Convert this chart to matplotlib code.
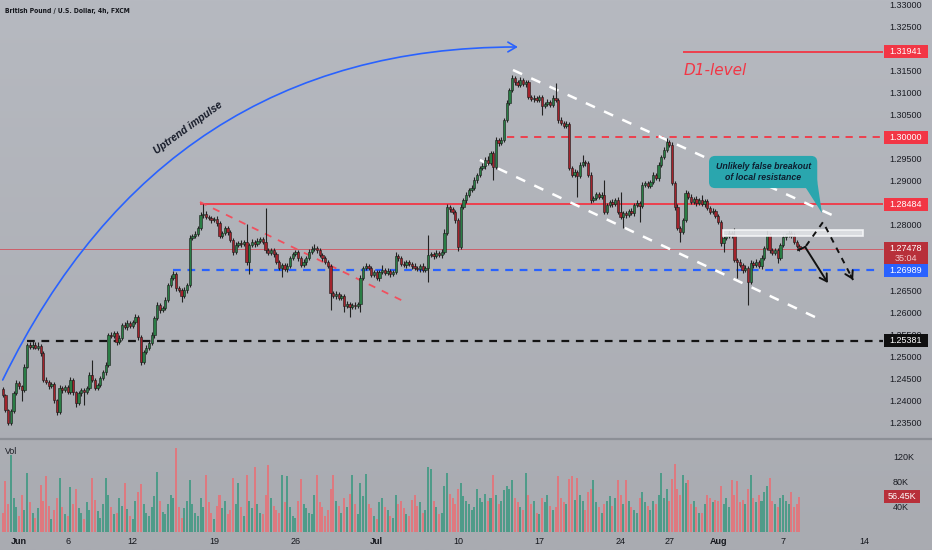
import numpy as np
import matplotlib
matplotlib.use("Agg")
import matplotlib.pyplot as plt
from matplotlib.patches import Rectangle, Polygon, FancyArrowPatch
from matplotlib.path import Path
from matplotlib.lines import Line2D
import matplotlib.transforms as mtransforms
from matplotlib import font_manager
from matplotlib.font_manager import FontProperties

# ---------------- data ----------------
first_open = 1.2430
# 4h closes, one row per trading day (May 31 .. Aug 8)
closes = [
    1.2415, 1.2382, 1.2352, 1.2380, 1.2420, 1.2443,  # May 31
    1.2435, 1.2428, 1.2480, 1.2530, 1.2525, 1.2530,  # Jun 1
    1.2523, 1.2527, 1.2511, 1.2450, 1.2445, 1.2436,  # Jun 2
    1.2441, 1.2404, 1.2377, 1.2432, 1.2427, 1.2434,  # Jun 5
    1.2422, 1.2450, 1.2422, 1.2397, 1.2420, 1.2427,  # Jun 6
    1.2422, 1.2432, 1.2461, 1.2450, 1.2432, 1.2438,  # Jun 7
    1.2454, 1.2468, 1.2484, 1.2552, 1.2549, 1.2556,  # Jun 8
    1.2536, 1.2545, 1.2574, 1.2570, 1.2579, 1.2572,  # Jun 9
    1.2581, 1.2592, 1.2547, 1.2490, 1.2513, 1.2522,  # Jun 12
    1.2534, 1.2552, 1.2590, 1.2620, 1.2608, 1.2613,  # Jun 13
    1.2631, 1.2665, 1.2681, 1.2690, 1.2658, 1.2654,  # Jun 14
    1.2640, 1.2654, 1.2665, 1.2772, 1.2776, 1.2781,  # Jun 15
    1.2794, 1.2824, 1.2826, 1.2819, 1.2817, 1.2812,  # Jun 16
    1.2815, 1.2806, 1.2776, 1.2783, 1.2794, 1.2785,  # Jun 19
    1.2767, 1.2740, 1.2756, 1.2760, 1.2758, 1.2763,  # Jun 20
    1.2717, 1.2756, 1.2763, 1.2758, 1.2765, 1.2769,  # Jun 21
    1.2763, 1.2744, 1.2738, 1.2744, 1.2735, 1.2717,  # Jun 22
    1.2704, 1.2710, 1.2701, 1.2708, 1.2726, 1.2735,  # Jun 23
    1.2740, 1.2726, 1.2710, 1.2717, 1.2726, 1.2740,  # Jun 26
    1.2747, 1.2749, 1.2744, 1.2733, 1.2726, 1.2717,  # Jun 27
    1.2708, 1.2647, 1.2640, 1.2645, 1.2636, 1.2640,  # Jun 28
    1.2617, 1.2622, 1.2615, 1.2620, 1.2617, 1.2622,  # Jun 29
    1.2681, 1.2704, 1.2708, 1.2704, 1.2688, 1.2694,  # Jun 30
    1.2681, 1.2694, 1.2699, 1.2692, 1.2697, 1.2690,  # Jul 3
    1.2694, 1.2731, 1.2726, 1.2713, 1.2710, 1.2717,  # Jul 4
    1.2713, 1.2708, 1.2704, 1.2701, 1.2708, 1.2699,  # Jul 5
    1.2704, 1.2733, 1.2735, 1.2731, 1.2738, 1.2733,  # Jul 6
    1.2740, 1.2783, 1.2842, 1.2837, 1.2830, 1.2812,  # Jul 7
    1.2751, 1.2842, 1.2858, 1.2869, 1.2880, 1.2885,  # Jul 10
    1.2903, 1.2915, 1.2930, 1.2935, 1.2949, 1.2942,  # Jul 11
    1.2964, 1.2933, 1.2994, 1.2987, 1.2994, 1.3039,  # Jul 12
    1.3078, 1.3107, 1.3134, 1.3125, 1.3119, 1.3130,  # Jul 13
    1.3121, 1.3125, 1.3091, 1.3087, 1.3089, 1.3085,  # Jul 14
    1.3091, 1.3071, 1.3076, 1.3080, 1.3073, 1.3089,  # Jul 17
    1.3085, 1.3039, 1.3032, 1.3026, 1.3030, 1.2930,  # Jul 18
    1.2915, 1.2921, 1.2912, 1.2937, 1.2944, 1.2942,  # Jul 19
    1.2915, 1.2858, 1.2862, 1.2871, 1.2865, 1.2869,  # Jul 20
    1.2831, 1.2846, 1.2853, 1.2849, 1.2858, 1.2831,  # Jul 21
    1.2819, 1.2828, 1.2824, 1.2833, 1.2828, 1.2846,  # Jul 24
    1.2851, 1.2844, 1.2892, 1.2896, 1.2890, 1.2899,  # Jul 25
    1.2915, 1.2908, 1.2937, 1.2955, 1.2971, 1.2989,  # Jul 26
    1.2983, 1.2896, 1.2842, 1.2794, 1.2785, 1.2812,  # Jul 27
    1.2874, 1.2865, 1.2853, 1.2860, 1.2851, 1.2858,  # Jul 28
    1.2849, 1.2855, 1.2840, 1.2831, 1.2833, 1.2821,  # Jul 31
    1.2808, 1.2760, 1.2771, 1.2776, 1.2783, 1.2778,  # Aug 1
    1.2722, 1.2717, 1.2710, 1.2699, 1.2704, 1.2672,  # Aug 2
    1.2715, 1.2710, 1.2717, 1.2708, 1.2726, 1.2749,  # Aug 3
    1.2778, 1.2744, 1.2738, 1.2744, 1.2726, 1.2756,  # Aug 4
    1.2774, 1.2778, 1.2783, 1.2776, 1.2763, 1.2753,  # Aug 7
    1.27478,                                         # Aug 8
]
# upper / lower wick lengths in pips beyond the body
upper_wick_pips = [
    4, 3, 3, 5, 4, 6,   5, 4, 5, 4, 6, 8,   5, 8, 4, 5, 6, 4,   5, 4, 3, 6, 5, 4,
    4, 6, 5, 3, 4, 5,   4, 5, 6, 34, 4, 5,  4, 5, 6, 5, 6, 4,   5, 6, 5, 7, 6, 5,
    5, 8, 4, 5, 4, 6,   5, 6, 5, 6, 4, 5,   6, 5, 6, 7, 4, 5,   4, 6, 5, 6, 5, 6,
    5, 6, 23, 6, 5, 4,  5, 6, 4, 5, 6, 5,   5, 4, 6, 5, 6, 5,   40, 5, 6, 5, 6, 5,
    4, 77, 5, 6, 4, 5,  4, 6, 5, 6, 5, 6,   5, 4, 5, 6, 5, 6,   6, 10, 5, 4, 5, 4,
    5, 4, 5, 6, 4, 5,   5, 6, 4, 5, 6, 5,   6, 5, 6, 5, 4, 5,   5, 6, 12, 5, 6, 5,
    5, 8, 5, 4, 6, 5,   5, 4, 6, 5, 4, 6,   5, 46, 6, 5, 6, 5,  6, 8, 6, 5, 6, 5,
    5, 6, 5, 6, 5, 6,   6, 5, 6, 7, 6, 8,   6, 5, 6, 5, 6, 5,   6, 5, 7, 6, 5, 6,
    5, 6, 5, 4, 6, 5,   5, 6, 5, 6, 5, 6,   34, 5, 6, 5, 6, 4,  5, 6, 5, 6, 16, 5,
    5, 6, 5, 6, 5, 6,   34, 6, 5, 6, 5, 6,  45, 5, 6, 5, 6, 5,  6, 5, 6, 5, 6, 5,
    6, 5, 6, 5, 6, 9,   5, 6, 5, 6, 5, 6,   6, 5, 6, 5, 6, 5,   11, 5, 6, 5, 6, 5,
    6, 5, 6, 5, 6, 5,   16, 5, 6, 5, 6, 5,  6, 5, 6, 5, 6, 5,   12, 5, 6, 5, 6, 5,
    6, 5, 7, 5, 6, 5,   5,
]
lower_wick_pips = [
    5, 6, 5, 4, 5, 4,   6, 27, 5, 4, 6, 5,  4, 5, 6, 5, 4, 6,   5, 6, 7, 5, 6, 4,
    5, 4, 6, 9, 5, 6,   29, 5, 4, 6, 5, 4,  5, 4, 6, 5, 4, 5,   6, 5, 4, 5, 6, 4,
    5, 4, 6, 6, 5, 4,   5, 4, 6, 5, 6, 4,   5, 4, 5, 4, 6, 5,   13, 5, 6, 4, 5, 4,
    5, 4, 6, 5, 4, 6,   5, 6, 5, 4, 5, 6,   5, 6, 5, 4, 6, 5,   6, 27, 5, 6, 5, 4,
    5, 6, 5, 4, 6, 5,   6, 21, 5, 6, 4, 5,  5, 6, 5, 4, 6, 5,   4, 5, 6, 5, 6, 5,
    5, 39, 5, 6, 5, 4,  13, 5, 22, 5, 6, 5, 18, 5, 4, 6, 5, 4,  5, 6, 4, 5, 4, 6,
    5, 4, 6, 5, 4, 6,   5, 6, 5, 4, 6, 5,   5, 32, 5, 6, 4, 5,  6, 5, 4, 6, 5, 6,
    8, 5, 4, 6, 5, 4,   5, 6, 5, 4, 6, 5,   4, 30, 5, 6, 5, 4,  5, 4, 5, 6, 5, 4,
    5, 6, 5, 4, 6, 5,   4, 20, 5, 6, 5, 4,  5, 6, 5, 4, 6, 5,   5, 6, 47, 5, 4, 6,
    5, 6, 5, 4, 6, 5,   6, 5, 4, 6, 5, 4,   5, 25, 6, 5, 4, 6,  5, 36, 5, 4, 6, 5,
    5, 4, 6, 5, 4, 5,   6, 5, 6, 5, 22, 5,  5, 6, 5, 4, 6, 5,   5, 6, 4, 5, 6, 5,
    5, 6, 20, 5, 4, 6,  5, 35, 5, 6, 4, 52, 5, 6, 4, 5, 6, 5,   5, 6, 4, 5, 11, 5,
    5, 6, 4, 5, 6, 5,   5,
]
# volume in thousands
volumes_k = [
    30, 82, 45, 125, 55, 40,  25, 60, 35, 95, 48, 30,  22, 38, 76, 50, 90, 42,
    20, 35, 55, 88, 40, 28,   25, 72, 45, 70, 38, 30,  20, 48, 35, 88, 52, 33,
    22, 45, 88, 60, 40, 28,   30, 55, 42, 80, 36, 25,  20, 50, 65, 78, 45, 30,
    25, 40, 58, 97, 50, 32,   28, 45, 60, 55, 136, 40, 22, 38, 50, 84, 45, 30,
    26, 55, 40, 92, 48, 30,   20, 42, 60, 38, 50, 28,  35, 88, 45, 80, 40, 25,
    92, 50, 38, 105, 45, 30,  28, 60, 108, 55, 42, 35, 30, 92, 48, 90, 40, 25,
    22, 50, 85, 45, 38, 30,   28, 60, 92, 48, 40, 26,  35, 70, 93, 50, 42, 30,
    55, 40, 62, 93, 45, 28,   80, 58, 94, 45, 38, 26,  20, 48, 55, 40, 35, 25,
    22, 60, 45, 50, 38, 28,   25, 52, 60, 42, 48, 30,  35, 105, 102, 50, 40, 28,
    30, 75, 96, 62, 55, 45,   70, 80, 58, 50, 45, 35,  40, 70, 55, 48, 62, 50,
    55, 93, 60, 45, 50, 68,   75, 70, 84, 55, 48, 40,  35, 96, 60, 45, 50, 30,
    28, 55, 48, 60, 42, 35,   40, 91, 55, 48, 45, 85,  90, 52, 88, 60, 50, 35,
    65, 70, 84, 48, 40, 30,   45, 50, 58, 42, 55, 84,  60, 45, 84, 50, 40, 35,
    30, 55, 65, 48, 42, 35,   50, 45, 60, 96, 55, 70,  50, 85, 110, 70, 60, 93,
    80, 84, 45, 50, 40, 30,   30, 45, 60, 55, 48, 52,  50, 75, 45, 55, 40, 84,
    60, 82, 48, 52, 45, 70,   92, 55, 48, 60, 50, 65,  75, 88, 50, 45, 40, 55,
    60, 50, 45, 65, 40, 45,   56.45,
]

x_tick_pos = [6, 24, 48, 78, 108, 138, 168, 198, 228, 246, 264, 288, 318]
x_tick_labels = ["Jun", "6", "12", "19", "26", "Jul", "10", "17", "24", "27", "Aug", "7", "14"]
month_labels = {"Jun", "Jul", "Aug"}
price_ticks = [1.330, 1.325, 1.315, 1.310, 1.305, 1.295, 1.290, 1.280,
               1.265, 1.260, 1.255, 1.250, 1.245, 1.240, 1.235]
vol_ticks = [120, 80, 40]

d1_level = 1.31941
round_level = 1.30000
resistance = 1.28484
last_price = 1.27478
blue_level = 1.26989
black_level = 1.25381
countdown = "35:04"
last_volume_label = "56.45K"

# ---------------- fonts ----------------
avail = {f.name for f in font_manager.fontManager.ttflist}
SANS = "Liberation Sans" if "Liberation Sans" in avail else "DejaVu Sans"
title_fp = None
for f in font_manager.fontManager.ttflist:
    fn = f.fname.lower()
    if "liberationsansnarrow-bold." in fn:
        title_fp = FontProperties(fname=f.fname, size=5.6)
        break
if title_fp is None:
    for f in font_manager.fontManager.ttflist:
        if "dejavusanscondensed-bold." in f.fname.lower():
            title_fp = FontProperties(fname=f.fname, size=4.9)
            break
if title_fp is None:
    title_fp = FontProperties(family=SANS, weight="bold", size=5.3)

# ---------------- geometry ----------------
W, H = 932, 550
X0, STEP = 2.7, 2.71          # pixel of first bar, pixels per bar
PPX = 1 / 4410.0              # price per pixel
Y_TOP_PRICE = 1.331134
price_bottom_px = 438
vol_top_px, vol_bottom_px = 439, 531.5
VOL_PX = 0.6125               # pixels per K

fig = plt.figure(figsize=(W / 100, H / 100), dpi=100)

# background gradient
bg = fig.add_axes([0, 0, 1, 1], zorder=0)
top = np.array([0xb6, 0xb9, 0xc0]) / 255
bot = np.array([0xa9, 0xab, 0xb1]) / 255
g = np.linspace(0, 1, 256)[:, None, None]
bg.imshow(top * (1 - g) + bot * g, extent=[0, 1, 0, 1], aspect="auto")
bg.axis("off")

ax = fig.add_axes([0, 1 - price_bottom_px / H, 1, price_bottom_px / H], zorder=1)
axv = fig.add_axes([0, 1 - vol_bottom_px / H, 1, (vol_bottom_px - vol_top_px) / H], zorder=1)
for a in (ax, axv):
    a.set_xlim(-X0 / STEP, (W - X0) / STEP)
    a.axis("off")
ax.set_ylim(Y_TOP_PRICE - price_bottom_px * PPX, Y_TOP_PRICE)
axv.set_ylim(0, (vol_bottom_px - vol_top_px) / VOL_PX)

def fx(px):
    return px / W

# ---------------- candles ----------------
n = len(closes)
idx = np.arange(n)
c = np.array(closes)
o = np.concatenate([[first_open], c[:-1]])
hi = np.maximum(o, c) + np.array(upper_wick_pips) * 1e-4
lo = np.minimum(o, c) - np.array(lower_wick_pips) * 1e-4
up = c >= o
G, R = "#2a7d45", "#a3232c"
ax.vlines(idx, lo, hi, color="#222222", lw=0.8, zorder=5)
ax.bar(idx, np.maximum(np.abs(c - o), 0.00014), bottom=np.minimum(o, c), width=0.84,
       color=np.where(up, G, R), edgecolor="#1a1a1a", linewidth=0.4, zorder=6)

# volume
axv.bar(idx, volumes_k, width=0.74, color=np.where(up, "#4f9b89", "#de797f"), zorder=3)

# ---------------- drawings ----------------
x_end = (883 - X0) / STEP
ax.hlines(d1_level, 251, x_end, color="#f23645", lw=1.3, zorder=4)
ax.hlines(round_level, 186, x_end, color="#f23645", lw=1.3, linestyles=(0, (4, 3.5)), zorder=4)
ax.hlines(resistance, 72.8, x_end, color="#f23645", lw=1.3, zorder=4)
ax.hlines(last_price, -2, x_end, color="#d8404c", lw=0.6, alpha=0.85, zorder=4)
ax.hlines(blue_level, 62.8, 322.6, color="#2962ff", lw=1.6, linestyles=(0, (3.5, 3)), zorder=4)
ax.hlines(black_level, 9.0, x_end, color="#141414", lw=1.6, linestyles=(0, (3.5, 3)), zorder=4)

# red descending dashed trendline
ax.plot([72.8, 148.5], [1.28533, 1.26265], color="#f0505e", lw=1.3, ls=(0, (4, 4)), zorder=4)
# white channel
ax.plot([188.3, 306.0], [1.31526, 1.28238], color="white", lw=1.8, ls=(0, (4, 4)), zorder=4)
ax.plot([176.1, 300.5], [1.29485, 1.25902], color="white", lw=1.8, ls=(0, (4, 4)), zorder=4)

# resistance zone
ax.add_patch(Rectangle((265.8, 1.27762), 317.5 - 265.8, 1.27898 - 1.27762,
                       facecolor="#dfe1e5", edgecolor="#f6f7f9", lw=1.2, alpha=0.9, zorder=7))

# blue arc "Uptrend impulse"
arc = Path([(0.0, 1.24497), (59.9, 1.32048), (190.1, 1.32048)],
           [Path.MOVETO, Path.CURVE3, Path.CURVE3])
ax.add_patch(FancyArrowPatch(path=arc, arrowstyle="->,head_length=0.6,head_width=0.35",
                             color="#2962ff", lw=1.2, mutation_scale=10, zorder=4))
ax.text(68.4, 1.30211, "Uptrend impulse", rotation=36, rotation_mode="anchor",
        ha="center", va="center", fontsize=7.5, fontweight="bold", style="italic",
        color="#151a28", family=SANS, zorder=8)

ax.text(262.8, 1.31526, "D1-level", ha="center", va="center", fontsize=11,
        style="italic", color="#f23645", family="DejaVu Sans", zorder=8)

# callout
ax.add_patch(Polygon([(296.4, 1.28850), (300.5, 1.29032), (302.3, 1.28283)],
                     closed=True, facecolor="#2aa6ae", edgecolor="none", zorder=8))
ax.text(280.6, 1.29213, "Unlikely false breakout\nof local resistance", ha="center", va="center",
        fontsize=6.3, fontweight="bold", style="italic", color="#0e1e30", family=SANS,
        linespacing=1.15, zorder=9,
        bbox=dict(boxstyle="round,pad=0.75,rounding_size=0.7", fc="#2aa6ae", ec="none"))

# black projection arrows
ax.plot([293.5, 296.1], [1.27444, 1.27512], color="#111111", lw=1.4, zorder=8)
ax.annotate("", xy=(304.5, 1.26696), xytext=(296.1, 1.27512),
            arrowprops=dict(arrowstyle="->,head_length=0.5,head_width=0.3", color="#111111",
                            lw=1.4, shrinkA=0, shrinkB=0, mutation_scale=10), zorder=8)
ax.plot([296.4, 302.7, 313.8], [1.27535, 1.28079, 1.26764], color="#111111", lw=1.4,
        ls=(0, (3, 3)), zorder=8)
ax.annotate("", xy=(313.8, 1.26764), xytext=(312.9, 1.26870),
            arrowprops=dict(arrowstyle="->,head_length=0.5,head_width=0.3", color="#111111",
                            lw=1.4, shrinkA=0, shrinkB=0, mutation_scale=10), zorder=8)

# ---------------- right price scale ----------------
tr_p = mtransforms.blended_transform_factory(fig.transFigure, ax.transData)
LBL_X = fx(906)
for p in price_ticks:
    ax.text(LBL_X, p, f"{p:.5f}", transform=tr_p, ha="center", va="center",
            fontsize=6.5, color="#1b1d24", family=SANS, zorder=10)

def price_box(level, color, txt, extra=None):
    h = 13 * PPX
    top_ = level + h / 2
    bot_ = level - h / 2 - (10 * PPX if extra else 0)
    ax.add_patch(Rectangle((fx(884), bot_), fx(44), top_ - bot_, transform=tr_p,
                           facecolor=color, edgecolor="none", zorder=11, clip_on=False))
    ax.text(LBL_X, level, txt, transform=tr_p, ha="center", va="center",
            fontsize=6.5, color="white", family=SANS, zorder=12)
    if extra:
        ax.text(LBL_X, level - 10 * PPX, extra, transform=tr_p, ha="center", va="center",
                fontsize=6.5, color="#f3c9cc", family=SANS, zorder=12)

price_box(d1_level, "#f23645", f"{d1_level:.5f}")
price_box(round_level, "#f23645", f"{round_level:.5f}")
price_box(resistance, "#f23645", f"{resistance:.5f}")
price_box(last_price, "#b8303a", f"{last_price:.5f}", countdown)
price_box(blue_level, "#2962ff", f"{blue_level:.5f}")
price_box(black_level, "#101010", f"{black_level:.5f}")

# volume scale
tr_v = mtransforms.blended_transform_factory(fig.transFigure, axv.transData)
for v in vol_ticks:
    axv.text(fx(893), v, f"{v}K", transform=tr_v, ha="left", va="center",
             fontsize=6.5, color="#1b1d24", family=SANS, zorder=10)
lv = volumes_k[-1]
axv.add_patch(Rectangle((fx(884), lv - 6.5 / VOL_PX), fx(36), 13 / VOL_PX, transform=tr_v,
                        facecolor="#b8303a", edgecolor="none", zorder=11, clip_on=False))
axv.text(fx(902), lv, last_volume_label, transform=tr_v, ha="center", va="center",
         fontsize=6.5, color="white", family=SANS, zorder=12)
axv.text(fx(5), 1 - 13 / (vol_bottom_px - vol_top_px), "Vol", transform=axv.transAxes,
         ha="left", va="center", fontsize=6.3, color="#1b1d24", family=SANS)

# pane separator
fig.add_artist(Line2D([0, 1], [1 - 438.5 / H] * 2, color="#8c8f96", lw=1.6, zorder=20))

# x labels
tr_x = mtransforms.blended_transform_factory(axv.transData, fig.transFigure)
for pos, lab in zip(x_tick_pos, x_tick_labels):
    axv.text(pos, 1 - 541 / H, lab, transform=tr_x, ha="center", va="center", fontsize=6.5,
             fontweight="bold" if lab in month_labels else "normal",
             color="#15171d", family=SANS, clip_on=False)

# title
fig.text(fx(5), 1 - 10.5 / H, "British Pound / U.S. Dollar, 4h, FXCM", ha="left", va="center",
         fontproperties=title_fp, color="#15171d")

fig.savefig("out.png", dpi=100)
